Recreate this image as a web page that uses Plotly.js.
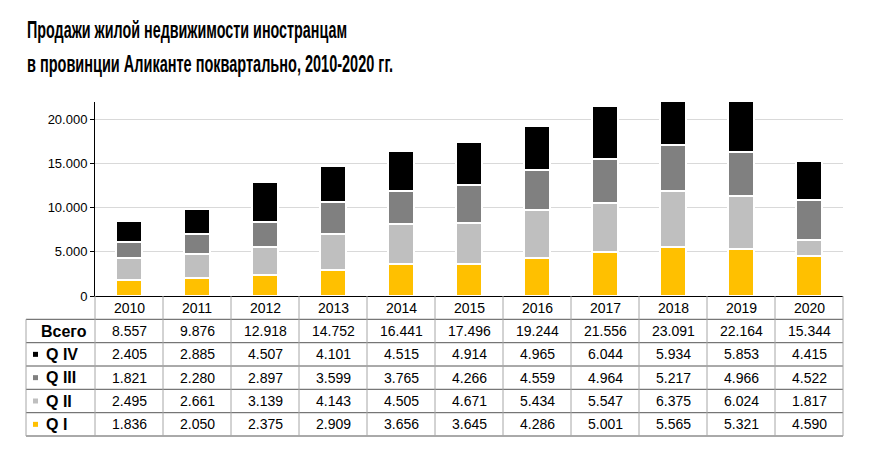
<!DOCTYPE html>
<html>
<head>
<meta charset="utf-8">
<script src="https://cdn.plot.ly/plotly-3.0.1.min.js"></script>
<style>body{margin:0;background:#fff}</style>
</head>
<body>
<div id="chart" style="width:870px;height:451px"></div>
<script>
const years = ['2010', '2011', '2012', '2013', '2014', '2015', '2016', '2017', '2018', '2019', '2020'];
const q1 = [1836, 2050, 2375, 2909, 3656, 3645, 4286, 5001, 5565, 5321, 4590];
const q2 = [2495, 2661, 3139, 4143, 4505, 4671, 5434, 5547, 6375, 6024, 1817];
const q3 = [1821, 2280, 2897, 3599, 3765, 4266, 4559, 4964, 5217, 4966, 4522];
const q4 = [2405, 2885, 4507, 4101, 4515, 4914, 4965, 6044, 5934, 5853, 4415];
const totals = [8557, 9876, 12918, 14752, 16441, 17496, 19244, 21556, 23091, 22164, 15344];
const quarterNames = ['Q I', 'Q II', 'Q III', 'Q IV'];
const quarterColors = ['#FFC000', '#BFBFBF', '#808080', '#000000'];
const totalLabel = 'Всего';

// plot area in pixels
const L = 95, R = 843, T = 102, B = 296;
const px = x => (x - L) / (R - L);
const py = y => (B - y) / (B - T);
const fmt = n => String(n).replace(/\B(?=(\d{3})+(?!\d))/g, '.');

const quarterData = [q1, q2, q3, q4];
const traces = quarterData.map((vals, i) => ({
  x: years,
  y: vals,
  type: 'bar',
  name: quarterNames[i],
  marker: { color: quarterColors[i], line: { color: '#fff', width: 2 } },
  hoverinfo: 'x+y+name'
}));

// таблица под графиком
const rowLines = [319.3, 342.7, 366, 389.3, 412.7, 436];
const headerMid = (B + rowLines[0]) / 2;
const rows = [{ label: totalLabel, values: totals, color: null }];
for (let i = 3; i >= 0; i--) {
  rows.push({ label: quarterNames[i], values: quarterData[i], color: quarterColors[i] });
}

const font = 'Liberation Sans, Arial, sans-serif';
const annotations = [];
const shapes = [];
const hLine = { color: '#555', width: 1 };
const vLine = { color: '#a6a6a6', width: 1 };

years.forEach((y, i) => annotations.push({
  x: i, y: py(headerMid), xref: 'x', yref: 'paper', xanchor: 'center', yanchor: 'middle',
  text: y, showarrow: false,
  font: { family: font, size: 14, color: '#000' }
}));

rows.forEach((row, r) => {
  const yc = (rowLines[r] + rowLines[r + 1]) / 2;
  row.values.forEach((v, i) => annotations.push({
    x: i, y: py(yc), xref: 'x', yref: 'paper', xanchor: 'center', yanchor: 'middle',
    text: fmt(v), showarrow: false,
    font: { family: font, size: 14, color: '#000' }
  }));
  annotations.push({
    x: px(row.color ? 44 : 39), y: py(yc), xref: 'paper', yref: 'paper', xanchor: 'left', yanchor: 'middle',
    text: '<b>' + row.label + '</b>', showarrow: false,
    font: { family: font, size: 16, color: '#000' }
  });
  if (row.color) {
    shapes.push({
      type: 'rect', xref: 'paper', yref: 'paper',
      x0: px(33), x1: px(38), y0: py(yc + 2.5), y1: py(yc - 2.5),
      fillcolor: row.color, line: { width: 0 }
    });
  }
});

rowLines.forEach(y => shapes.push({
  type: 'line', xref: 'paper', yref: 'paper', x0: px(26), x1: px(R), y0: py(y), y1: py(y), line: hLine
}));
shapes.push({ type: 'line', xref: 'paper', yref: 'paper', x0: px(26), x1: px(26),
  y0: py(rowLines[0]), y1: py(rowLines[rowLines.length - 1]), line: vLine });
for (let k = 0; k <= years.length; k++) {
  shapes.push({ type: 'line', xref: 'paper', yref: 'paper', x0: k / years.length, x1: k / years.length,
    y0: py(B), y1: py(rowLines[rowLines.length - 1]), line: vLine });
}

// заголовок
const titleLines = ['Продажи жилой недвижимости иностранцам', 'в провинции Аликанте поквартально, 2010-2020 гг.'];
const titleWidths = [320, 366];
const titleFont = { family: 'Liberation Sans, Arial, sans-serif', size: 23, color: '#000' };
[30, 64].forEach((y, i) => annotations.push({
  x: px(25), y: py(y), xref: 'paper', yref: 'paper', xanchor: 'left', yanchor: 'middle', align: 'left',
  text: '<b>' + titleLines[i] + '</b>', showarrow: false, font: titleFont
}));

const layout = {
  width: 870, height: 451,
  margin: { l: L, r: 870 - R, t: T, b: 451 - B },
  paper_bgcolor: '#fff', plot_bgcolor: '#fff',
  barmode: 'stack', bargap: 0.62,
  showlegend: false,
  separators: ',.',
  font: { family: font, color: '#000' },
  xaxis: {
    type: 'category', range: [-0.5, years.length - 0.5], showticklabels: false, ticks: '',
    showline: true, linecolor: '#000', linewidth: 1, showgrid: false
  },
  yaxis: {
    range: [0, 22000], tickvals: [0, 5000, 10000, 15000, 20000], tickformat: ',d',
    showline: true, linecolor: '#000', linewidth: 1,
    ticks: 'outside', ticklen: 4, tickcolor: '#000',
    gridcolor: '#d9d9d9', zeroline: false,
    tickfont: { family: font, size: 13, color: '#000' }
  },
  annotations: annotations,
  shapes: shapes
};

Plotly.newPlot('chart', traces, layout, { displayModeBar: false, responsive: false }).then(gd => {
  // сжать заголовок под узкий шрифт оригинала
  gd.querySelectorAll('.annotation-text').forEach(t => {
    const idx = titleLines.findIndex(s => t.textContent === s);
    if (idx >= 0) {
      t.setAttribute('text-anchor', 'start');
      t.setAttribute('textLength', titleWidths[idx]);
      t.setAttribute('lengthAdjust', 'spacingAndGlyphs');
    }
  });
});
</script>
</body>
</html>
